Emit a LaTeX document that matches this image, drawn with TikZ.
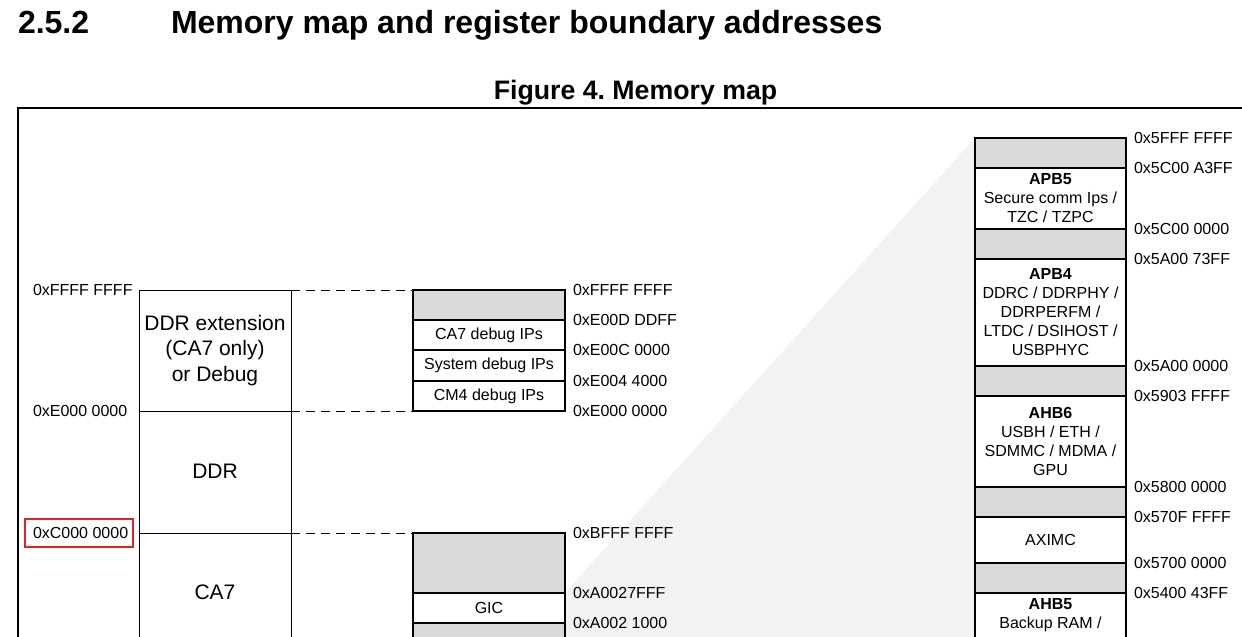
\documentclass[tikz,border=0pt]{standalone}
\usepackage{fontspec}
\setmainfont{Liberation Sans}
\frenchspacing
\definecolor{cellgray}{HTML}{D9D9D9}
\definecolor{zoomshade}{HTML}{F2F2F2}
\definecolor{boxred}{HTML}{E02424}
\begin{document}
\begin{tikzpicture}[x=1pt,y=-1pt,
  every node/.style={inner sep=0pt, outer sep=0pt},
  lbl/.style={font=\fontsize{16}{19}\selectfont, anchor=west},
  bigtxt/.style={font=\fontsize{21}{25.5}\selectfont, align=center},
  one/.style={font=\fontsize{16}{19}\selectfont, text height=11.5pt, text depth=0pt},
  graycell/.style={fill=cellgray, draw=black, line width=1.2pt, anchor=north west},
  whitecell/.style={fill=white, draw=black, line width=1.2pt, anchor=north west, font=\fontsize{16}{19}\selectfont, align=center},
  colcell/.style={draw=black, line width=0.8pt, minimum width=152, anchor=north west},
  frameline/.style={line width=2.4pt},
  outerframe/.style={line width=2pt},
  link/.style={dash pattern=on 9pt off 6pt, line width=0.8pt}
]
\useasboundingbox (0,0) rectangle (1242,637);
\clip (0,0) rectangle (1242,637);
\fill[white] (0,0) rectangle (1242,637);

% zoom shading
\coordinate (zt) at (975,138);
\coordinate (zb) at (565,593);
\fill[zoomshade] (zt) -- (zb) -- (565,660) -- (975,660) -- cycle;

% headings
\node[anchor=base west, font=\fontsize{32}{38}\selectfont\bfseries] (secnum) at (18,33.5) {2.5.2};
\node[anchor=base west, font=\fontsize{32}{38}\selectfont\bfseries] (sectitle) at (171,33.5) {Memory map and register boundary addresses};
\node[anchor=base, font=\fontsize{26.7}{32}\selectfont\bfseries] (figtitle) at (635.5,99.5) {Figure 4. Memory map};

% outer frame
\draw[outerframe] (18,660) -- (18,108) -- (1260,108);

% left column
\node[colcell, minimum height=121] (ext) at (139,290) {};
\node[colcell, minimum height=122] (ddr) at (139,411) {};
\node[colcell, minimum height=130] (ca7) at (139,533) {};
\node[bigtxt] (extt) at (ext.center) {DDR extension\\(CA7 only)\\or Debug};
\node[bigtxt] (ddrt) at (215,471) {DDR};
\node[bigtxt] (ca7t) at (215,592) {CA7};

\node[lbl] (la1) at (33,290) {0xFFFF FFFF};
\node[lbl] (la2) at (33,411) {0xE000 0000};
\node[lbl] (la3) at (33,533) {0xC000 0000};
\draw[boxred, line width=1.5pt] (25,519) rectangle (133,547);

% debug box
\node[graycell, minimum width=152, minimum height=30] (d0) at (413,290) {};
\node[whitecell, minimum width=152, minimum height=30] (d1) at (413,320) {CA7 debug IPs};
\node[whitecell, minimum width=152, minimum height=31] (d2) at (413,350) {System debug IPs};
\node[whitecell, minimum width=152, minimum height=30] (d3) at (413,381) {CM4 debug IPs};
\draw[frameline] (d0.north west) rectangle (d3.south east);

\node[lbl] (lb1) at (573,290) {0xFFFF FFFF};
\node[lbl] (lb2) at (573,319.5) {0xE00D DDFF};
\node[lbl] (lb3) at (573,350) {0xE00C 0000};
\node[lbl] (lb4) at (573,380.5) {0xE004 4000};
\node[lbl] (lb5) at (573,410.5) {0xE000 0000};

% CA7 box
\node[graycell, minimum width=152, minimum height=60] (g0) at (413,533) {};
\node[whitecell, minimum width=152, minimum height=30] (gic) at (413,593) {GIC};
\node[graycell, minimum width=152, minimum height=40] (g2) at (413,623) {};
\draw[frameline] (g2.south west) -- (g0.north west) -- (g0.north east) -- (g2.south east);

\node[lbl] (lc1) at (573,532.5) {0xBFFF FFFF};
\node[lbl] (lc2) at (573,593) {0xA0027FFF};
\node[lbl] (lc3) at (573,623) {0xA002 1000};

% dashed connectors
\draw[link] (ext.north east) -- (d0.north west);
\draw[link] (ext.south east) -- (d3.south west);
\draw[link] (ca7.north east) -- (g0.north west);

% right column
\node[graycell, minimum width=151, minimum height=30] (r0) at (975,138) {};
\node[whitecell, minimum width=151, minimum height=61] (apb5) at (975,168) {{\bfseries APB5}\\Secure comm Ips /\\TZC / TZPC};
\node[graycell, minimum width=151, minimum height=30] (r2) at (975,229) {};
\node[whitecell, minimum width=151, minimum height=107] (apb4) at (975,259) {{\bfseries APB4}\\DDRC / DDRPHY /\\DDRPERFM /\\LTDC / DSIHOST /\\USBPHYC};
\node[graycell, minimum width=151, minimum height=30] (r4) at (975,366) {};
\node[whitecell, minimum width=151, minimum height=91] (ahb6) at (975,396) {{\bfseries AHB6}\\USBH / ETH /\\SDMMC / MDMA /\\GPU};
\node[graycell, minimum width=151, minimum height=30] (r6) at (975,487) {};
\node[whitecell, minimum width=151, minimum height=46] (aximc) at (975,517) {AXIMC};
\node[graycell, minimum width=151, minimum height=30] (r8) at (975,563) {};
\node[whitecell, minimum width=151, minimum height=70] (ahb5) at (975,593) {};
\node[one, font=\fontsize{16}{19}\selectfont\bfseries] (ahb5a) at (1050.5,604) {AHB5};
\node[one] (ahb5b) at (1050.5,623) {Backup RAM /};
\draw[frameline] (ahb5.south west) -- (r0.north west) -- (r0.north east) -- (ahb5.south east);

\node[lbl] (ld1) at (1134,137.5) {0x5FFF FFFF};
\node[lbl] (ld2) at (1134,168) {0x5C00 A3FF};
\node[lbl] (ld3) at (1134,228.5) {0x5C00 0000};
\node[lbl] (ld4) at (1134,259) {0x5A00 73FF};
\node[lbl] (ld5) at (1134,365.5) {0x5A00 0000};
\node[lbl] (ld6) at (1134,395.5) {0x5903 FFFF};
\node[lbl] (ld7) at (1134,486.5) {0x5800 0000};
\node[lbl] (ld8) at (1134,517) {0x570F FFFF};
\node[lbl] (ld9) at (1134,562.5) {0x5700 0000};
\node[lbl] (ld10) at (1134,593) {0x5400 43FF};
\end{tikzpicture}
\end{document}
